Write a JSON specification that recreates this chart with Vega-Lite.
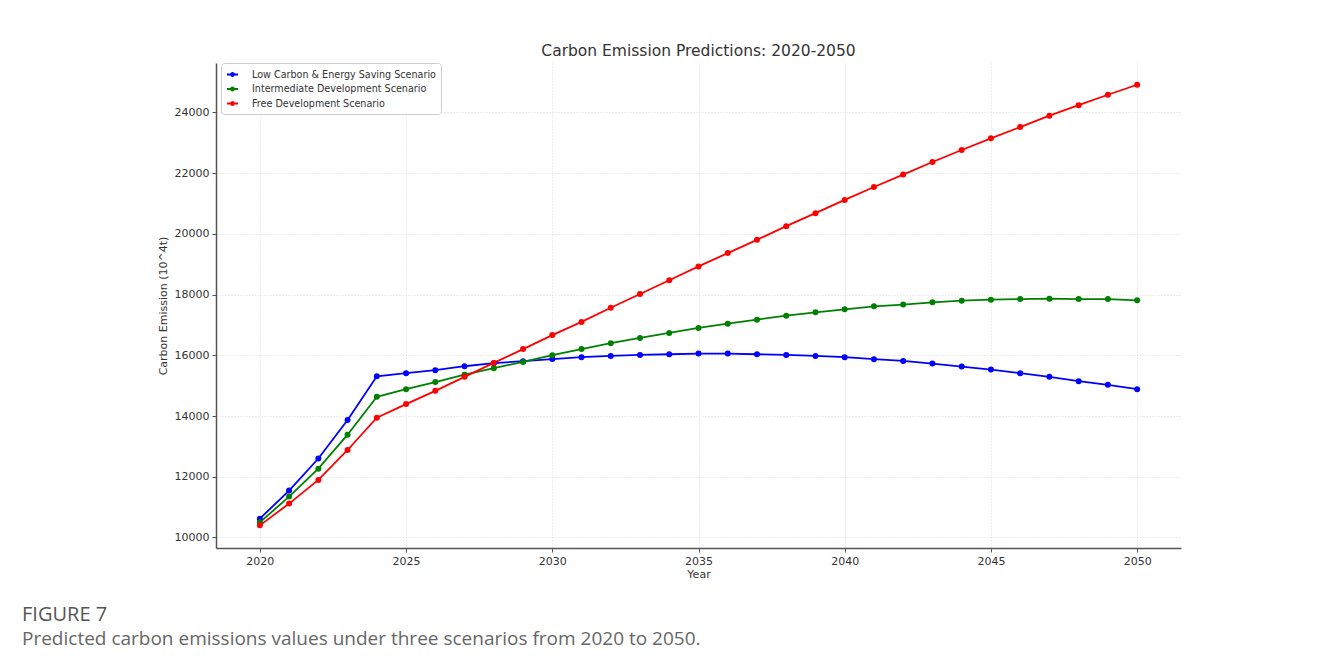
{
  "$schema": "https://vega.github.io/schema/vega-lite/v6.json",
  "background": "white",
  "padding": {"left": 22, "top": 43, "right": 5, "bottom": 10},
  "title": {
    "text": "FIGURE 7",
    "subtitle": "Predicted carbon emissions values under three scenarios from 2020 to 2050.",
    "orient": "bottom",
    "anchor": "start",
    "frame": "bounds",
    "dx": -135,
    "offset": 26,
    "font": "Open Sans",
    "fontSize": 20,
    "fontWeight": "normal",
    "color": "#555555",
    "subtitleFont": "Open Sans",
    "subtitleFontSize": 19,
    "subtitleColor": "#666666",
    "subtitlePadding": 5
  },
  "vconcat": [
    {
      "width": 965,
      "height": 485,
      "title": {
        "text": "Carbon Emission Predictions: 2020-2050",
        "font": "DejaVu Sans",
        "fontSize": 15.5,
        "fontWeight": "normal",
        "color": "#333333",
        "anchor": "middle",
        "offset": 4
      },
      "data": {
        "values": [
          {"year": 2020, "Low Carbon & Energy Saving Scenario": 10620, "Intermediate Development Scenario": 10500, "Free Development Scenario": 10400},
          {"year": 2021, "Low Carbon & Energy Saving Scenario": 11545, "Intermediate Development Scenario": 11347, "Free Development Scenario": 11117},
          {"year": 2022, "Low Carbon & Energy Saving Scenario": 12600, "Intermediate Development Scenario": 12267, "Free Development Scenario": 11896},
          {"year": 2023, "Low Carbon & Energy Saving Scenario": 13870, "Intermediate Development Scenario": 13385, "Free Development Scenario": 12882},
          {"year": 2024, "Low Carbon & Energy Saving Scenario": 15310, "Intermediate Development Scenario": 14633, "Free Development Scenario": 13943},
          {"year": 2025, "Low Carbon & Energy Saving Scenario": 15410, "Intermediate Development Scenario": 14886, "Free Development Scenario": 14393},
          {"year": 2026, "Low Carbon & Energy Saving Scenario": 15510, "Intermediate Development Scenario": 15120, "Free Development Scenario": 14830},
          {"year": 2027, "Low Carbon & Energy Saving Scenario": 15640, "Intermediate Development Scenario": 15360, "Free Development Scenario": 15290},
          {"year": 2028, "Low Carbon & Energy Saving Scenario": 15740, "Intermediate Development Scenario": 15576, "Free Development Scenario": 15750},
          {"year": 2029, "Low Carbon & Energy Saving Scenario": 15806, "Intermediate Development Scenario": 15783, "Free Development Scenario": 16205},
          {"year": 2030, "Low Carbon & Energy Saving Scenario": 15875, "Intermediate Development Scenario": 16003, "Free Development Scenario": 16665},
          {"year": 2031, "Low Carbon & Energy Saving Scenario": 15937, "Intermediate Development Scenario": 16205, "Free Development Scenario": 17100},
          {"year": 2032, "Low Carbon & Energy Saving Scenario": 15980, "Intermediate Development Scenario": 16398, "Free Development Scenario": 17568},
          {"year": 2033, "Low Carbon & Energy Saving Scenario": 16013, "Intermediate Development Scenario": 16572, "Free Development Scenario": 18018},
          {"year": 2034, "Low Carbon & Energy Saving Scenario": 16035, "Intermediate Development Scenario": 16736, "Free Development Scenario": 18470},
          {"year": 2035, "Low Carbon & Energy Saving Scenario": 16057, "Intermediate Development Scenario": 16900, "Free Development Scenario": 18928},
          {"year": 2036, "Low Carbon & Energy Saving Scenario": 16057, "Intermediate Development Scenario": 17043, "Free Development Scenario": 19365},
          {"year": 2037, "Low Carbon & Energy Saving Scenario": 16035, "Intermediate Development Scenario": 17174, "Free Development Scenario": 19802},
          {"year": 2038, "Low Carbon & Energy Saving Scenario": 16013, "Intermediate Development Scenario": 17306, "Free Development Scenario": 20252},
          {"year": 2039, "Low Carbon & Energy Saving Scenario": 15980, "Intermediate Development Scenario": 17416, "Free Development Scenario": 20680},
          {"year": 2040, "Low Carbon & Energy Saving Scenario": 15937, "Intermediate Development Scenario": 17515, "Free Development Scenario": 21117},
          {"year": 2041, "Low Carbon & Energy Saving Scenario": 15871, "Intermediate Development Scenario": 17613, "Free Development Scenario": 21544},
          {"year": 2042, "Low Carbon & Energy Saving Scenario": 15816, "Intermediate Development Scenario": 17670, "Free Development Scenario": 21951},
          {"year": 2043, "Low Carbon & Energy Saving Scenario": 15728, "Intermediate Development Scenario": 17745, "Free Development Scenario": 22365},
          {"year": 2044, "Low Carbon & Energy Saving Scenario": 15629, "Intermediate Development Scenario": 17798, "Free Development Scenario": 22760},
          {"year": 2045, "Low Carbon & Energy Saving Scenario": 15530, "Intermediate Development Scenario": 17831, "Free Development Scenario": 23144},
          {"year": 2046, "Low Carbon & Energy Saving Scenario": 15411, "Intermediate Development Scenario": 17853, "Free Development Scenario": 23516},
          {"year": 2047, "Low Carbon & Energy Saving Scenario": 15290, "Intermediate Development Scenario": 17864, "Free Development Scenario": 23890},
          {"year": 2048, "Low Carbon & Energy Saving Scenario": 15149, "Intermediate Development Scenario": 17853, "Free Development Scenario": 24238},
          {"year": 2049, "Low Carbon & Energy Saving Scenario": 15027, "Intermediate Development Scenario": 17850, "Free Development Scenario": 24580},
          {"year": 2050, "Low Carbon & Energy Saving Scenario": 14886, "Intermediate Development Scenario": 17810, "Free Development Scenario": 24909}
        ]
      },
      "transform": [
        {"fold": ["Low Carbon & Energy Saving Scenario", "Intermediate Development Scenario", "Free Development Scenario"], "as": ["scenario", "value"]}
      ],
      "mark": {
        "type": "line",
        "strokeWidth": 1.8,
        "point": {"filled": true, "size": 36}
      },
      "encoding": {
        "x": {
          "field": "year",
          "type": "quantitative",
          "title": "Year",
          "scale": {"domain": [2018.5, 2051.5], "nice": false, "zero": false},
          "axis": {"values": [2020, 2025, 2030, 2035, 2040, 2045, 2050], "format": "d", "labelPadding": 3, "titlePadding": 2}
        },
        "y": {
          "field": "value",
          "type": "quantitative",
          "title": "Carbon Emission (10^4t)",
          "scale": {"domain": [9654, 25626], "nice": false, "zero": false},
          "axis": {"values": [10000, 12000, 14000, 16000, 18000, 20000, 22000, 24000], "format": "d", "labelPadding": 3, "titlePadding": 6}
        },
        "color": {
          "field": "scenario",
          "type": "nominal",
          "sort": ["Low Carbon & Energy Saving Scenario", "Intermediate Development Scenario", "Free Development Scenario"],
          "scale": {
            "domain": ["Low Carbon & Energy Saving Scenario", "Intermediate Development Scenario", "Free Development Scenario"],
            "range": ["#0000ff", "#008000", "#ff0000"]
          },
          "legend": {
            "title": null,
            "orient": "none",
            "legendX": 5,
            "legendY": 0,
            "padding": 5,
            "fillColor": "white",
            "strokeColor": "#cccccc",
            "cornerRadius": 3,
            "labelFont": "DejaVu Sans",
            "labelFontSize": 9.6,
            "labelColor": "#333333",
            "labelLimit": 0,
            "rowPadding": 2.5,
            "symbolType": "M-1,0L1,0M0.27,0A0.27,0.27,0,1,1,-0.27,0A0.27,0.27,0,1,1,0.27,0Z",
            "symbolSize": 121,
            "symbolStrokeWidth": 1.8,
            "labelOffset": 13,
            "encode": {
              "symbols": {
                "update": {
                  "fill": {"scale": "color", "field": "value"},
                  "stroke": {"scale": "color", "field": "value"}
                }
              }
            }
          }
        }
      }
    }
  ],
  "config": {
    "view": {"stroke": null},
    "axis": {
      "labelFont": "DejaVu Sans",
      "labelFontSize": 11,
      "labelColor": "#333333",
      "titleFont": "DejaVu Sans",
      "titleFontSize": 11,
      "titleFontWeight": "normal",
      "titleColor": "#333333",
      "tickColor": "#555555",
      "tickSize": 4,
      "domainColor": "#555555",
      "domainWidth": 1.5,
      "gridColor": "#dcdcdc",
      "gridDash": [1, 2],
      "gridWidth": 1
    }
  }
}
